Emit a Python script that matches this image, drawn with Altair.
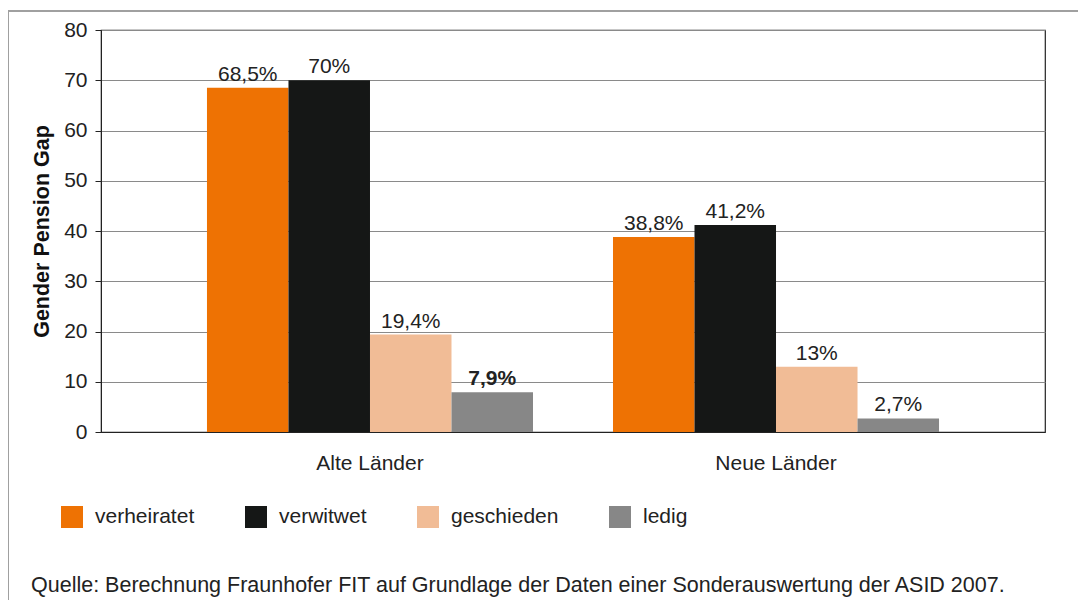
import altair as alt
import pandas as pd

regions = ["Alte Länder", "Neue Länder"]
status = ["verheiratet", "verwitwet", "geschieden", "ledig"]
values_alte = [68.5, 70, 19.4, 7.9]
values_neue = [38.8, 41.2, 13, 2.7]
labels_alte = ["68,5%", "70%", "19,4%", "7,9%"]
labels_neue = ["38,8%", "41,2%", "13%", "2,7%"]
bold_alte = [False, False, False, True]
bold_neue = [False, False, False, False]
colors = ["#EE7203", "#151716", "#F1BC96", "#878787"]
y_ticks = [0, 10, 20, 30, 40, 50, 60, 70, 80]
source_text = "Quelle: Berechnung Fraunhofer FIT auf Grundlage der Daten einer Sonderauswertung der ASID 2007."

rows = []
for reg, vals, labs, bolds in [(regions[0], values_alte, labels_alte, bold_alte),
                               (regions[1], values_neue, labels_neue, bold_neue)]:
    for s, v, l, b in zip(status, vals, labs, bolds):
        rows.append({"Region": reg, "Status": s, "Wert": v, "Label": l, "Bold": b})
df = pd.DataFrame(rows)

FONT = "Liberation Sans"
FS = 21

x_enc = alt.X("Region:N", sort=regions,
              scale=alt.Scale(paddingInner=0.197, paddingOuter=0.261),
              axis=alt.Axis(title=None, ticks=False, labelPadding=20, labelFontSize=FS,
                            labelColor="#222222", domainColor="#222222", labelFont=FONT,
                            labelAngle=0))
xoff = alt.XOffset("Status:N", sort=status, scale=alt.Scale(paddingInner=0, paddingOuter=0))
y_enc = alt.Y("Wert:Q", scale=alt.Scale(domain=[0, 80], nice=False),
              axis=alt.Axis(values=y_ticks, title="Gender Pension Gap", titleFontSize=21.5,
                            titleFontWeight="bold", titleFont=FONT, titleColor="#111111",
                            titlePadding=10, labelFontSize=FS, labelFont=FONT,
                            labelColor="#222222", labelPadding=8, tickSize=6,
                            tickColor="#222222", domainColor="#222222",
                            grid=True, gridColor="#8a8a8a", gridWidth=1))

base = alt.Chart(df)

bars = base.mark_bar().encode(
    x=x_enc, xOffset=xoff, y=y_enc,
    color=alt.Color("Status:N", sort=status,
                    scale=alt.Scale(domain=status, range=colors),
                    legend=alt.Legend(title=None, orient="none", legendX=-40, legendY=476,
                                      direction="horizontal", symbolType="square",
                                      symbolSize=484, symbolStrokeWidth=0, labelFontSize=FS,
                                      labelFont=FONT, labelColor="#222222", labelOffset=12,
                                      columnPadding=50, padding=0))
)

text_norm = base.transform_filter("!datum.Bold").mark_text(
    baseline="alphabetic", dy=-7, fontSize=FS, font=FONT, color="#222222"
).encode(x=x_enc, xOffset=xoff, y=y_enc, text="Label:N")

text_bold = base.transform_filter("datum.Bold").mark_text(
    baseline="alphabetic", dy=-7, fontSize=FS, font=FONT, fontWeight="bold", color="#222222"
).encode(x=x_enc, xOffset=xoff, y=y_enc, text="Label:N")

src_df = pd.DataFrame({"t": [source_text]})
source = alt.Chart(src_df).mark_text(
    align="left", baseline="alphabetic", fontSize=21.5, font=FONT, color="#222222"
).encode(x=alt.value(-70), y=alt.value(562), text="t:N")

frame_top = alt.Chart(src_df).mark_rule(color="#a0a0a0", strokeWidth=2).encode(
    x=alt.value(-93), x2=alt.value(990), y=alt.value(-19))
frame_left = alt.Chart(src_df).mark_rule(color="#a0a0a0", strokeWidth=2).encode(
    x=alt.value(-93), y=alt.value(-19), y2=alt.value(590))

chart = alt.layer(frame_top, frame_left, bars, text_norm, text_bold, source).properties(
    width=944, height=402,
    autosize=alt.AutoSizeParams(type="none"),
    padding={"left": 93, "top": 22, "right": 33, "bottom": 168},
    background="white",
).configure_view(stroke="#222222", strokeWidth=1.2)

chart.save("out.html", embed_options={"renderer": "svg", "actions": False})
